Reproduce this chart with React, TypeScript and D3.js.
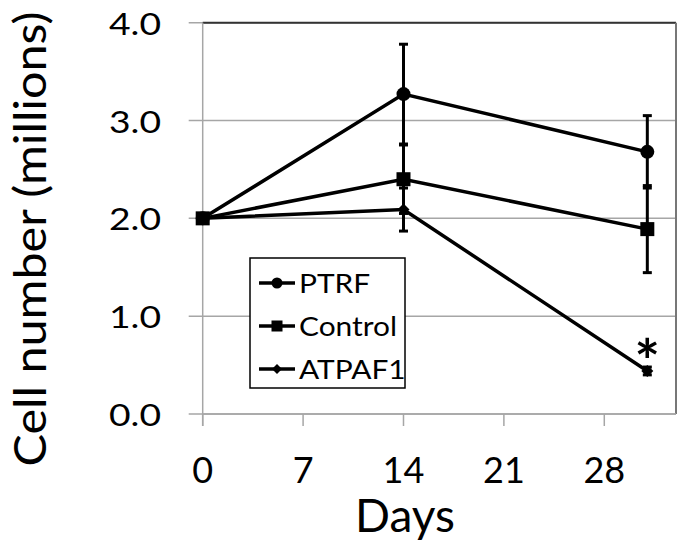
import React from "react";
import * as d3 from "d3";

const days = [0, 14, 31];
const seriesNames = ["PTRF", "Control", "ATPAF1"];
const ptrf = [2.0, 3.27, 2.68];
const ptrfErr = [0, 0.51, 0.37];
const control = [2.0, 2.4, 1.89];
const controlErr = [0, 0.35, 0.445];
const atpaf1 = [2.0, 2.09, 0.44];
const atpaf1Err = [0, 0.22, 0.04];
const xTicks = [0, 7, 14, 21, 28];
const yTicks = [0, 1, 2, 3, 4];
const xDomain = [0, 33];
const yDomain = [0, 4];
const xTitle = "Days";
const yTitle = "Cell number (millions)";
const starLabel = "*";

const W = 685;
const H = 544;
const left = 202.7;
const right = 676;
const top = 22.7;
const bottom = 414;
const FONT = "Lato, 'Open Sans', sans-serif";

const x = d3.scaleLinear().domain(xDomain).range([left, right]);
const y = d3.scaleLinear().domain(yDomain).range([bottom, top]);

const series = [
  { name: seriesNames[0], values: ptrf, errs: ptrfErr, marker: "circle" },
  { name: seriesNames[1], values: control, errs: controlErr, marker: "square" },
  { name: seriesNames[2], values: atpaf1, errs: atpaf1Err, marker: "diamond" },
];

function Marker({ type, cx, cy, s }: { type: string; cx: number; cy: number; s: number }) {
  if (type === "circle") return <circle cx={cx} cy={cy} r={s / 2} fill="#000" />;
  if (type === "square")
    return <rect x={cx - s / 2} y={cy - s / 2} width={s} height={s} fill="#000" />;
  const h = s * 0.5;
  return (
    <path
      d={`M${cx},${cy - h}L${cx + h},${cy}L${cx},${cy + h}L${cx - h},${cy}Z`}
      fill="#000"
    />
  );
}

export default function App() {
  const line = d3
    .line<number>()
    .x((_, i) => x(days[i]))
    .y((d) => y(d));

  const legendX = 250;
  const legendY = 258;
  const legendW = 155;
  const legendH = 130;
  const rowY = (i: number) => 283 + i * 43;

  return (
    <svg
      width={W}
      height={H}
      style={{ position: "absolute", left: 0, top: 0, background: "#fff" }}
    >
      <rect x={0} y={0} width={W} height={H} fill="#fff" />
      {/* gridlines */}
      {yTicks.map((t) => (
        <line
          key={"g" + t}
          x1={left - 14}
          x2={right}
          y1={y(t)}
          y2={y(t)}
          stroke="#a6a6a6"
          strokeWidth={1.5}
        />
      ))}
      {/* top and right frame */}
      <line x1={left} x2={right} y1={top} y2={top} stroke="#333" strokeWidth={2} />
      <line x1={right} x2={right} y1={top} y2={bottom} stroke="#777" strokeWidth={2} />
      {/* axes */}
      <line x1={left} x2={left} y1={top} y2={bottom + 12} stroke="#a6a6a6" strokeWidth={1.5} />
      <line x1={left} x2={right} y1={bottom} y2={bottom} stroke="#a6a6a6" strokeWidth={1.5} />
      {xTicks.map((t) => (
        <line
          key={"xt" + t}
          x1={x(t)}
          x2={x(t)}
          y1={bottom}
          y2={bottom + 12}
          stroke="#a6a6a6"
          strokeWidth={1.5}
        />
      ))}
      {/* tick labels */}
      {yTicks.map((t) => (
        <text
          key={"yl" + t}
          x={161}
          y={y(t) + 12}
          textAnchor="end"
          fontFamily={FONT}
          fontSize={30}
          textLength={52}
          lengthAdjust="spacingAndGlyphs"
          fill="#000"
        >
          {t.toFixed(1)}
        </text>
      ))}
      {xTicks.map((t) => (
        <text
          key={"xl" + t}
          x={x(t)}
          y={482.5}
          textAnchor="middle"
          fontFamily={FONT}
          fontSize={36}
          fill="#000"
        >
          {t}
        </text>
      ))}
      {/* titles */}
      <text
        x={405}
        y={531.5}
        textAnchor="middle"
        fontFamily={FONT}
        fontSize={46}
        fill="#000"
      >
        {xTitle}
      </text>
      <text
        transform={`translate(45.5,239) rotate(-90)`}
        textAnchor="middle"
        fontFamily={FONT}
        fontSize={45}
        textLength={455}
        lengthAdjust="spacingAndGlyphs"
        fill="#000"
      >
        {yTitle}
      </text>
      {/* series */}
      {series.map((s) => (
        <g key={s.name}>
          {s.values.map((v, i) =>
            s.errs[i] > 0 ? (
              <g key={"e" + i}>
                <line
                  x1={x(days[i])}
                  x2={x(days[i])}
                  y1={y(v - s.errs[i])}
                  y2={y(v + s.errs[i])}
                  stroke="#000"
                  strokeWidth={3}
                />
                <line
                  x1={x(days[i]) - 4.5}
                  x2={x(days[i]) + 4.5}
                  y1={y(v - s.errs[i])}
                  y2={y(v - s.errs[i])}
                  stroke="#000"
                  strokeWidth={3}
                />
                <line
                  x1={x(days[i]) - 4.5}
                  x2={x(days[i]) + 4.5}
                  y1={y(v + s.errs[i])}
                  y2={y(v + s.errs[i])}
                  stroke="#000"
                  strokeWidth={3}
                />
              </g>
            ) : null
          )}
          <path d={line(s.values) || ""} fill="none" stroke="#000" strokeWidth={3.5} />
          {s.values.map((v, i) => (
            <Marker
              key={"m" + i}
              type={s.marker}
              cx={x(days[i])}
              cy={y(v)}
              s={s.marker === "diamond" ? 12 : 14}
            />
          ))}
        </g>
      ))}
      {/* asterisk */}
      <text
        x={x(days[2])}
        y={383}
        textAnchor="middle"
        fontFamily={FONT}
        fontSize={60}
        fontWeight="bold"
        fill="#000"
      >
        {starLabel}
      </text>
      {/* legend */}
      <rect
        x={legendX}
        y={legendY}
        width={legendW}
        height={legendH}
        fill="#fff"
        stroke="#000"
        strokeWidth={1.5}
      />
      {series.map((s, i) => (
        <g key={"lg" + s.name}>
          <line x1={259} x2={295} y1={rowY(i)} y2={rowY(i)} stroke="#000" strokeWidth={3.5} />
          <Marker type={s.marker} cx={277} cy={rowY(i)} s={s.marker === "diamond" ? 10 : 11} />
          <text
            transform={`translate(299,${rowY(i) + 9.5}) scale(1.15,1)`}
            fontFamily={FONT}
            fontSize={26}
            fill="#000"
          >
            {s.name}
          </text>
        </g>
      ))}
    </svg>
  );
}
